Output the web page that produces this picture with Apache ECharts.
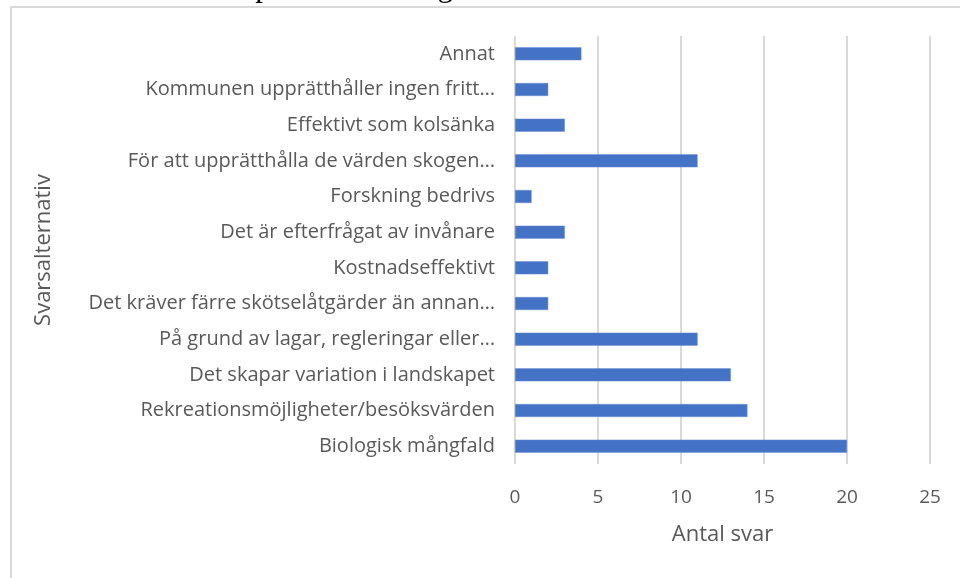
<!DOCTYPE html>
<html>
<head>
<meta charset="utf-8">
<script src="https://cdn.jsdelivr.net/npm/echarts@6/dist/echarts.min.js"></script>
<style>
  html, body { margin: 0; padding: 0; background: #fff; }
  #chart { width: 960px; height: 578px; }
</style>
</head>
<body>
<div id="chart"></div>
<script>
// svarsalternativ, uppifrån och ned
var categories = [
  'Annat',
  'Kommunen upprätthåller ingen fritt…',
  'Effektivt som kolsänka',
  'För att upprätthålla de värden skogen…',
  'Forskning bedrivs',
  'Det är efterfrågat av invånare',
  'Kostnadseffektivt',
  'Det kräver färre skötselåtgärder än annan…',
  'På grund av lagar, regleringar eller…',
  'Det skapar variation i landskapet',
  'Rekreationsmöjligheter/besöksvärden',
  'Biologisk mångfald'
];
var antalSvar = [4, 2, 3, 11, 1, 3, 2, 2, 11, 13, 14, 20];
var xTicks = [0, 5, 10, 15, 20, 25];

var chart = echarts.init(document.getElementById('chart'));

var labelFont = 'Open Sans, Noto Sans, sans-serif';

var option = {
  animation: false,
  backgroundColor: '#fff',
  grid: { left: 515, right: 30, top: 36, bottom: 114 },
  graphic: [
    {
      type: 'rect',
      shape: { x: 11, y: 7, width: 970, height: 590 },
      style: { fill: 'none', stroke: '#d9d9d9', lineWidth: 2 },
      silent: true
    },
    {
      // avskuren brödtext ovanför figuren
      type: 'text',
      style: {
        x: -14,
        y: 3,
        verticalAlign: 'bottom',
        text: 'svarsalternativ. Detta presenteras i figur 3 nedan.',
        font: '31px "Liberation Serif", serif',
        fill: '#000'
      },
      silent: true
    }
  ],
  xAxis: {
    type: 'value',
    min: 0,
    max: 25,
    interval: 5,
    name: 'Antal svar',
    nameLocation: 'middle',
    nameGap: 60,
    nameTextStyle: { color: '#595959', fontSize: 22, fontFamily: labelFont },
    axisLine: { show: false },
    axisTick: { show: false },
    axisLabel: {
      color: '#595959', fontSize: 19, fontFamily: labelFont, margin: 24,
      formatter: function (v) { return xTicks.indexOf(v) >= 0 ? String(v) : ''; }
    },
    splitLine: { show: true, lineStyle: { color: '#d9d9d9', width: 2 } }
  },
  yAxis: {
    type: 'category',
    inverse: true,
    data: categories,
    name: 'Svarsalternativ',
    nameLocation: 'middle',
    nameRotate: 90,
    nameGap: 460,
    nameTextStyle: { color: '#595959', fontSize: 22, fontFamily: labelFont },
    axisLine: { show: false },
    axisTick: { show: false },
    axisLabel: { color: '#595959', fontSize: 20, fontFamily: labelFont, margin: 20 }
  },
  series: [
    {
      type: 'bar',
      data: antalSvar,
      barWidth: 13,
      itemStyle: { color: '#4472c4', borderColor: '#6b8fd6', borderWidth: 0.5 }
    }
  ]
};

chart.setOption(option);
</script>
</body>
</html>
